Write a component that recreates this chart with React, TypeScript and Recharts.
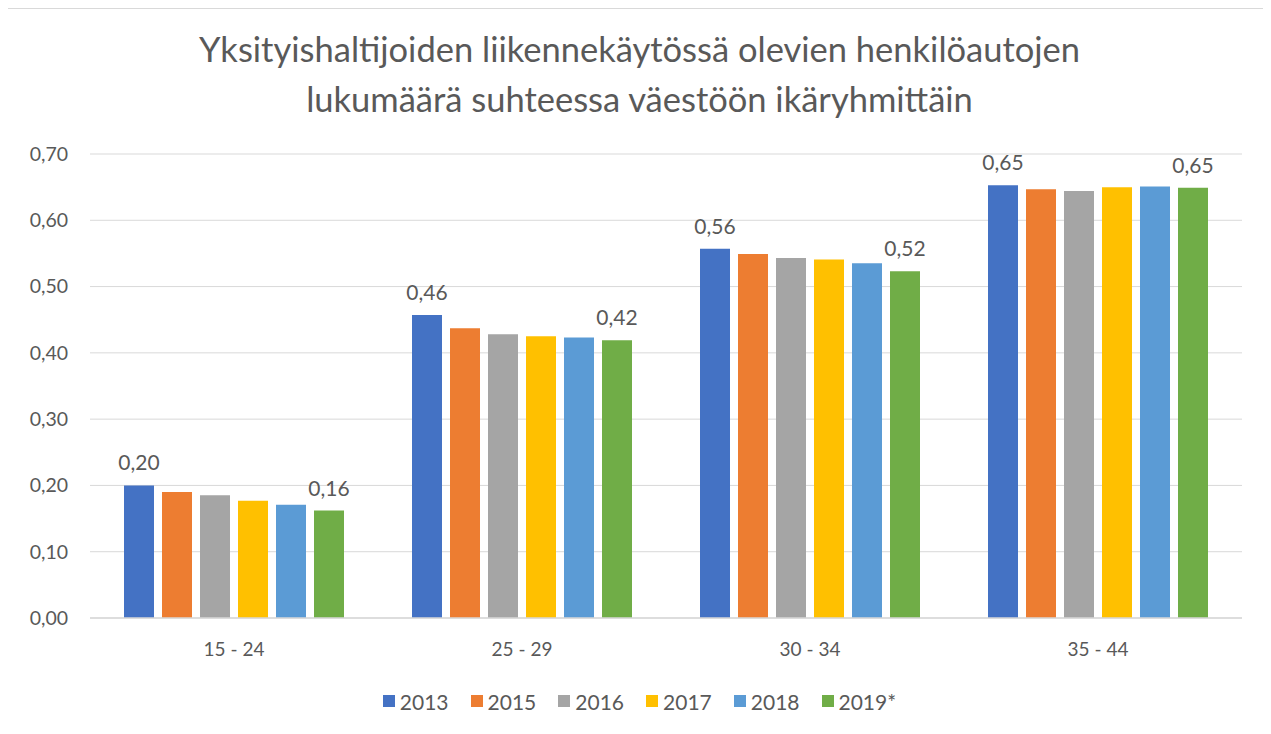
import React from "react";
import { BarChart, Bar, XAxis, YAxis, CartesianGrid, Legend, LabelList } from "recharts";

const ageGroups = ["15 - 24", "25 - 29", "30 - 34", "35 - 44"];

const years = ["2013", "2015", "2016", "2017", "2018", "2019*"];
const yearColors = ["#4472C4", "#ED7D31", "#A5A5A5", "#FFC000", "#5B9BD5", "#70AD47"];

const values2013 = [0.2, 0.457, 0.557, 0.653];
const values2015 = [0.19, 0.437, 0.549, 0.647];
const values2016 = [0.185, 0.428, 0.543, 0.644];
const values2017 = [0.177, 0.425, 0.541, 0.65];
const values2018 = [0.171, 0.423, 0.535, 0.651];
const values2019 = [0.162, 0.419, 0.523, 0.649];

const yTicks = [0, 0.1, 0.2, 0.3, 0.4, 0.5, 0.6, 0.7];

// series that carry data labels in the original
const labelledYears = ["2013", "2019*"];

const seriesValues = [values2013, values2015, values2016, values2017, values2018, values2019];

const data = ageGroups.map((group, i) => {
  const row: Record<string, string | number> = { group };
  years.forEach((y, j) => {
    row[y] = seriesValues[j][i];
  });
  return row;
});

const TEXT = "#595959";
const FONT = "Lato, 'Open Sans', sans-serif";

const fmt = (v: number) => v.toFixed(2).replace(".", ",");

function LegendContent() {
  return (
    <div
      style={{
        height: 24,
        display: "flex",
        justifyContent: "center",
        alignItems: "center",
        fontFamily: FONT,
        fontSize: 21,
        color: TEXT,
      }}
    >
      {years.map((y, i) => (
        <div key={y} style={{ display: "flex", alignItems: "center", margin: "0 11px" }}>
          <span style={{ width: 12, height: 12, background: yearColors[i], marginRight: 5 }} />
          <span>{y}</span>
        </div>
      ))}
    </div>
  );
}

export default function App() {
  return (
    <div
      style={{
        position: "relative",
        width: 1263,
        height: 726,
        marginLeft: -1,
        border: "1px solid #d9d9d9",
        borderBottom: "none",
        background: "#fff",
        fontFamily: FONT,
      }}
    >
      <div
        style={{
          position: "absolute",
          top: 15,
          left: 0,
          width: "100%",
          textAlign: "center",
          fontSize: 34.5,
          lineHeight: "50px",
          color: TEXT,
        }}
      >
        Yksityishaltijoiden liikennekäytössä olevien henkilöautojen
        <br />
        lukumäärä suhteessa väestöön ikäryhmittäin
      </div>
      <BarChart
        width={1263}
        height={726}
        data={data}
        margin={{ top: 145, right: 29, left: 0, bottom: 22 }}
        barSize={30}
        barGap={8}
      >
        <CartesianGrid vertical={false} stroke="#d9d9d9" strokeWidth={1} />
        <XAxis
          dataKey="group"
          height={71}
          axisLine={{ stroke: "#d9d9d9", strokeWidth: 1.5 }}
          tickLine={false}
          tickSize={0}
          tickMargin={25}
          tick={{ fill: TEXT, fontSize: 19, fontFamily: FONT }}
        />
        <YAxis
          width={82}
          domain={[0, 0.7]}
          ticks={yTicks}
          axisLine={false}
          tickLine={false}
          tickSize={0}
          tickMargin={22}
          tickFormatter={fmt}
          tick={{ fill: TEXT, fontSize: 19.5, fontFamily: FONT }}
        />
        <Legend
          verticalAlign="bottom"
          content={<LegendContent />}
          wrapperStyle={{ left: 0, width: 1263 }}
        />
        {years.map((y, i) => (
          <Bar key={y} dataKey={y} fill={yearColors[i]} isAnimationActive={false}>
            {labelledYears.includes(y) && (
              <LabelList
                dataKey={y}
                position="top"
                offset={15}
                formatter={(v: number) => fmt(v)}
                style={{ fill: TEXT, fontSize: 21, fontFamily: FONT }}
              />
            )}
          </Bar>
        ))}
      </BarChart>
    </div>
  );
}
